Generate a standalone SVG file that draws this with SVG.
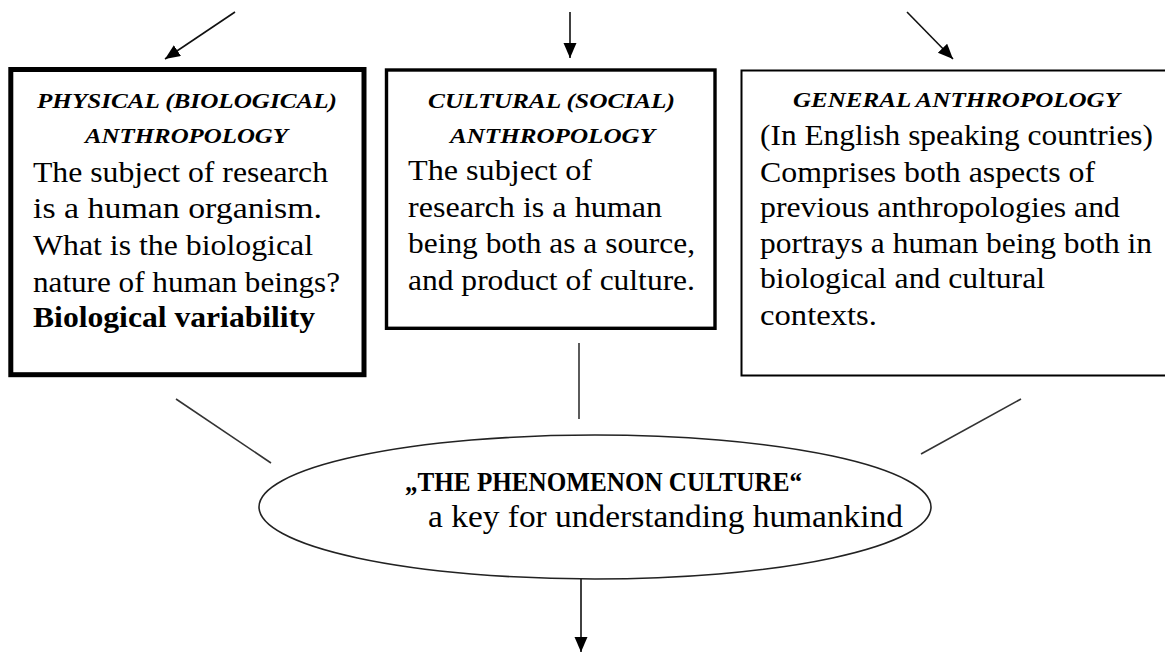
<svg xmlns="http://www.w3.org/2000/svg" width="1165" height="653" viewBox="0 0 1165 653">
<style>
text{font-family:"Liberation Serif","Times New Roman",Tinos,Times,serif;fill:#000}
.t{font-size:21px;font-weight:bold;font-style:italic}
.b{font-size:29px}
.bb{font-size:29px;font-weight:bold}
.box{fill:#fff;stroke:#000}
.ln{stroke:#333;stroke-width:1.6;fill:none}
.ar{stroke:#111;stroke-width:1.6;fill:none;marker-end:url(#ah)}
</style>
<defs>
<marker id="ah" markerUnits="userSpaceOnUse" markerWidth="16" markerHeight="14" refX="15" refY="6.5" orient="auto">
<path d="M0,0 L15,6.5 L0,13 z" fill="#000"/>
</marker>
</defs>
<rect width="1165" height="653" fill="#fff"/>
<g id="connectors">
<line class="ar" x1="235" y1="12" x2="165" y2="59"/>
<line class="ar" x1="570" y1="12" x2="570" y2="58"/>
<line class="ar" x1="907" y1="12" x2="953" y2="59"/>
<line class="ln" x1="176" y1="399" x2="271" y2="463"/>
<line class="ln" x1="579" y1="343" x2="579" y2="419"/>
<line class="ln" x1="1021" y1="399" x2="921" y2="454"/>
<line class="ar" x1="581" y1="579" x2="581" y2="652"/>
</g>
<g id="physical">
<rect class="box" x="10.8" y="69.5" width="353.2" height="305.2" stroke-width="5"/>
<text class="t" x="37" y="108" textLength="300" lengthAdjust="spacingAndGlyphs">PHYSICAL (BIOLOGICAL)</text>
<text class="t" x="85" y="143" textLength="203" lengthAdjust="spacingAndGlyphs">ANTHROPOLOGY</text>
<text class="b" x="33" y="182" textLength="295" lengthAdjust="spacingAndGlyphs">The subject of research</text>
<text class="b" x="33" y="218" textLength="289" lengthAdjust="spacingAndGlyphs">is a human organism.</text>
<text class="b" x="33" y="255" textLength="280" lengthAdjust="spacingAndGlyphs">What is the biological</text>
<text class="b" x="33" y="292" textLength="307" lengthAdjust="spacingAndGlyphs">nature of human beings?</text>
<text class="bb" x="33" y="327" textLength="282" lengthAdjust="spacingAndGlyphs">Biological variability</text>
</g>
<g id="cultural">
<rect class="box" x="386.5" y="70" width="328.5" height="258.3" stroke-width="3.4"/>
<text class="t" x="428" y="108" textLength="247" lengthAdjust="spacingAndGlyphs">CULTURAL (SOCIAL)</text>
<text class="t" x="450" y="143" textLength="205" lengthAdjust="spacingAndGlyphs">ANTHROPOLOGY</text>
<text class="b" x="408" y="180" textLength="184" lengthAdjust="spacingAndGlyphs">The subject of</text>
<text class="b" x="408" y="217" textLength="254" lengthAdjust="spacingAndGlyphs">research is a human</text>
<text class="b" x="408" y="253" textLength="287" lengthAdjust="spacingAndGlyphs">being both as a source,</text>
<text class="b" x="408" y="290" textLength="287" lengthAdjust="spacingAndGlyphs">and product of culture.</text>
</g>
<g id="general">
<rect class="box" x="741.5" y="70.5" width="440" height="305" stroke-width="2" stroke="#222"/>
<text class="t" x="793" y="107" textLength="327" lengthAdjust="spacingAndGlyphs">GENERAL ANTHROPOLOGY</text>
<text class="b" x="760" y="145" textLength="393" lengthAdjust="spacingAndGlyphs">(In English speaking countries)</text>
<text class="b" x="760" y="182" textLength="335" lengthAdjust="spacingAndGlyphs">Comprises both aspects of</text>
<text class="b" x="760" y="217" textLength="360" lengthAdjust="spacingAndGlyphs">previous anthropologies and</text>
<text class="b" x="760" y="253" textLength="392" lengthAdjust="spacingAndGlyphs">portrays a human being both in</text>
<text class="b" x="760" y="288" textLength="285" lengthAdjust="spacingAndGlyphs">biological and cultural</text>
<text class="b" x="760" y="325" textLength="117" lengthAdjust="spacingAndGlyphs">contexts.</text>
</g>
<g id="culture">
<ellipse cx="595" cy="507" rx="336" ry="72" fill="#fff" stroke="#222" stroke-width="1.6"/>
<text x="405" y="491" font-size="27" font-weight="bold" textLength="397" lengthAdjust="spacingAndGlyphs">„THE PHENOMENON CULTURE“</text>
<text x="428" y="527" font-size="32" textLength="475" lengthAdjust="spacingAndGlyphs">a key for understanding humankind</text>
</g>
</svg>
